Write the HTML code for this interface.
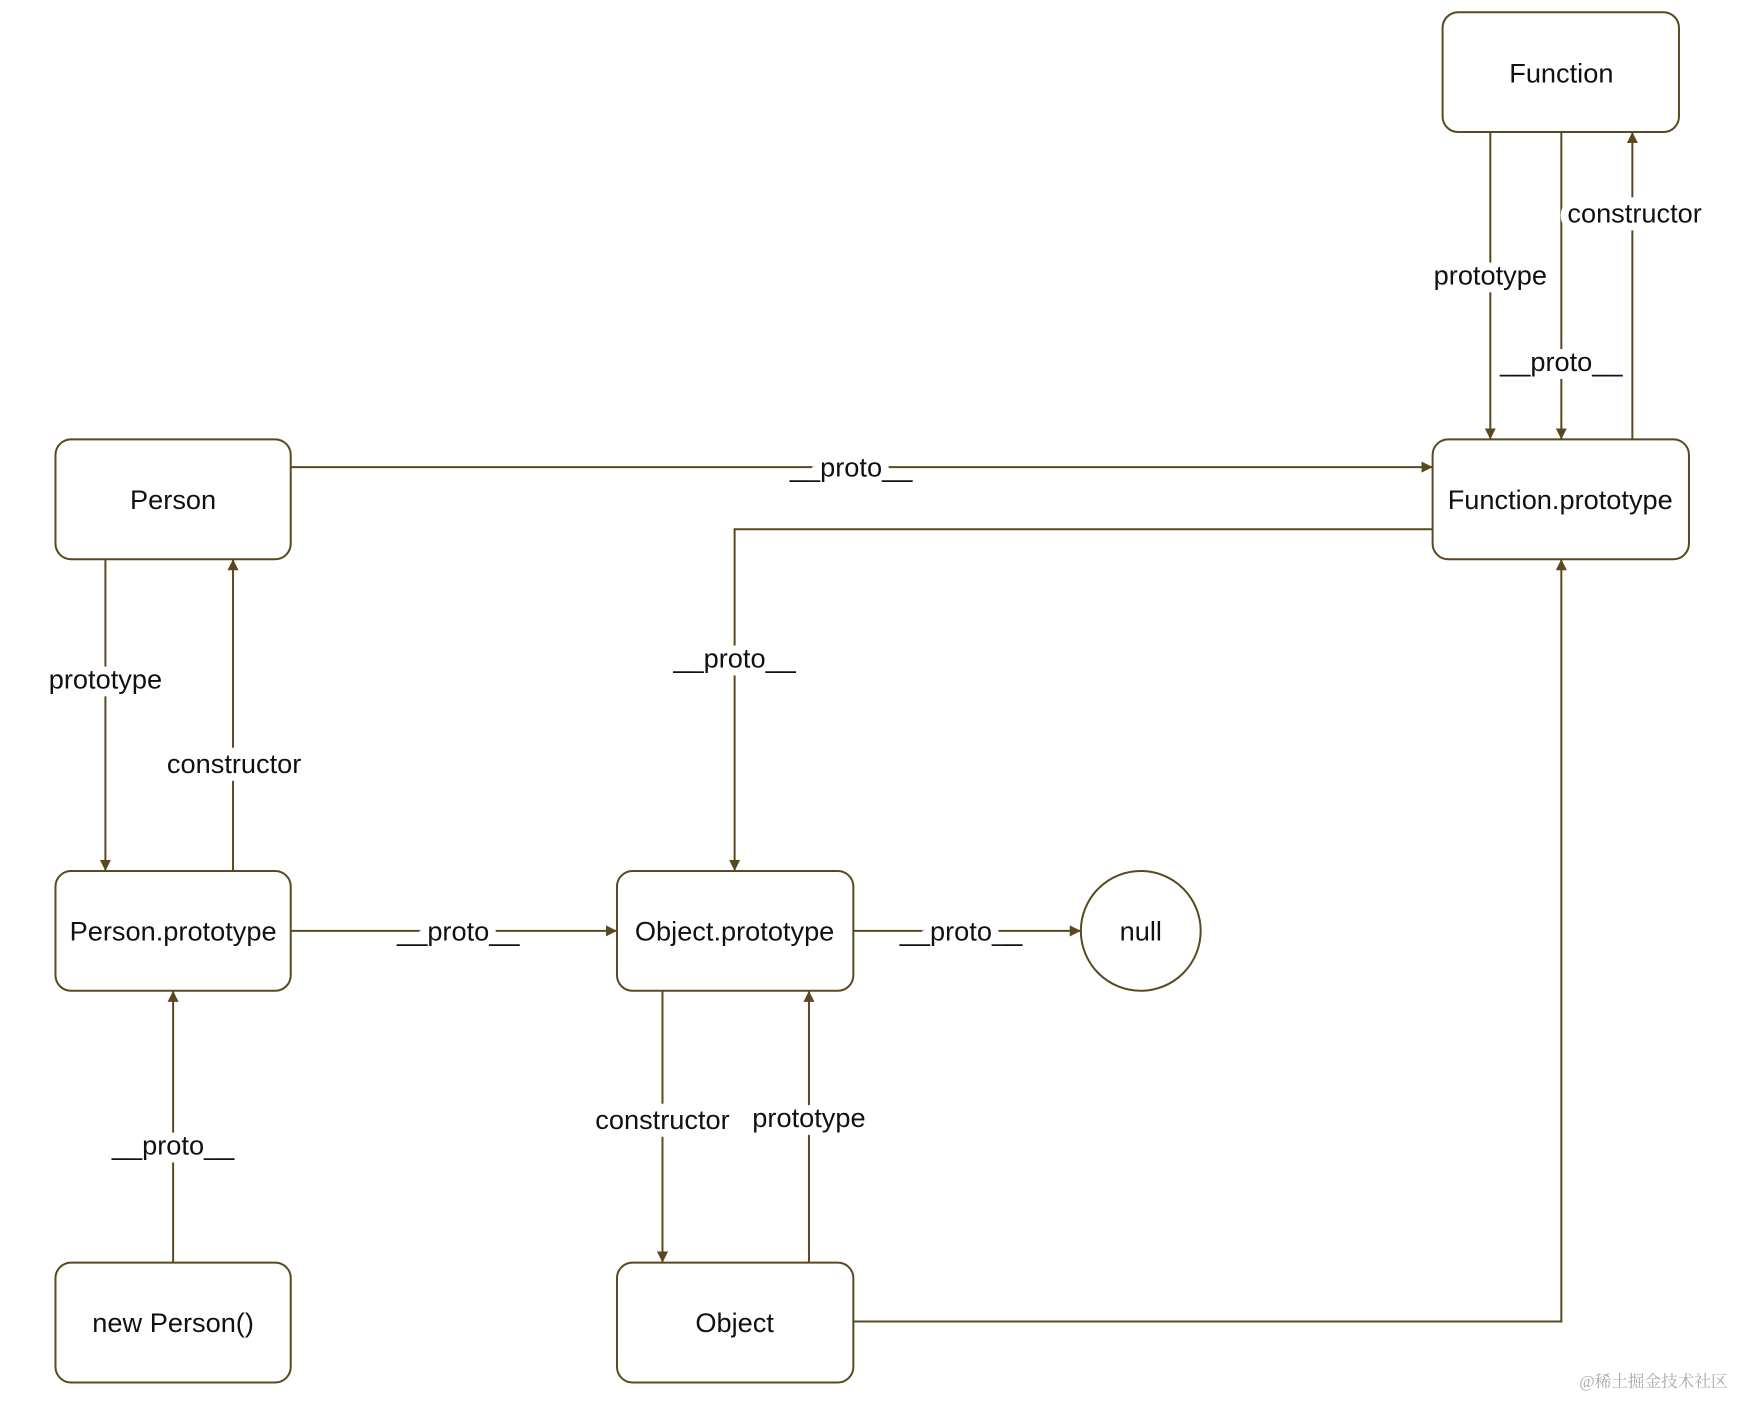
<!DOCTYPE html>
<html><head><meta charset="utf-8"><style>html,body{margin:0;padding:0;background:#fff}</style></head>
<body>
<svg width="1740" height="1398" viewBox="0 0 1568 1260" preserveAspectRatio="none" xmlns="http://www.w3.org/2000/svg">
<defs>
<marker id="a" viewBox="0 0 10 10" refX="10" refY="5" markerWidth="10" markerHeight="10" markerUnits="userSpaceOnUse" orient="auto">
<path d="M0,0 L10,5 L0,10 z" fill="#5a4820"/></marker>
</defs>
<g fill="#fff" stroke="#5a4820" stroke-width="1.8">
<rect x="1300" y="11" width="213" height="108" rx="14"/>
<rect x="1291" y="396" width="231" height="108" rx="14"/>
<rect x="50" y="396" width="212" height="108" rx="14"/>
<rect x="50" y="785" width="212" height="108" rx="14"/>
<rect x="50" y="1138" width="212" height="108" rx="14"/>
<rect x="556" y="785" width="213" height="108" rx="14"/>
<rect x="556" y="1138" width="213" height="108" rx="14"/>
<circle cx="1028" cy="839" r="54"/>
</g>
<g fill="none" stroke="#5a4820" stroke-width="1.8" marker-end="url(#a)">
<path d="M1343 119 V396"/>
<path d="M1407 119 V396"/>
<path d="M1471 396 V119"/>
<path d="M262 421 H1291"/>
<path d="M1291 477 H662 V785"/>
<path d="M95 504 V785"/>
<path d="M210 785 V504"/>
<path d="M262 839 H556"/>
<path d="M769 839 H974"/>
<path d="M156 1138 V893"/>
<path d="M597 893 V1138"/>
<path d="M729 1138 V893"/>
<path d="M769 1191 H1407 V504"/>
</g>
<g font-family="Liberation Sans, Arial, sans-serif" font-size="24.5" fill="#111" text-anchor="middle" dominant-baseline="central">
<text x="1407" y="66">Function</text>
<text x="1406" y="450">Function.prototype</text>
<text x="156" y="450">Person</text>
<text x="156" y="839">Person.prototype</text>
<text x="156" y="1192">new Person()</text>
<text x="662" y="839">Object.prototype</text>
<text x="662" y="1192">Object</text>
<text x="1028" y="839">null</text>
</g>
<g font-family="Liberation Sans, Arial, sans-serif" font-size="24.5" fill="#111" text-anchor="middle" dominant-baseline="central" stroke="#fff" stroke-width="14" paint-order="stroke">
<text x="1343" y="248">prototype</text>
<text x="1407" y="326">__proto__</text>
<text x="1473" y="192">constructor</text>
<text x="767" y="421">__proto__</text>
<text x="662" y="593">__proto__</text>
<text x="95" y="612">prototype</text>
<text x="211" y="688">constructor</text>
<text x="413" y="839">__proto__</text>
<text x="866" y="839">__proto__</text>
<text x="156" y="1032">__proto__</text>
<text x="597" y="1009">constructor</text>
<text x="729" y="1007">prototype</text>
</g>
<text x="1490" y="1245" font-family="Liberation Serif, Noto Serif CJK SC, serif" font-size="15" fill="#aaa" text-anchor="middle" dominant-baseline="central">@稀土掘金技术社区</text>
</svg>
</body></html>
